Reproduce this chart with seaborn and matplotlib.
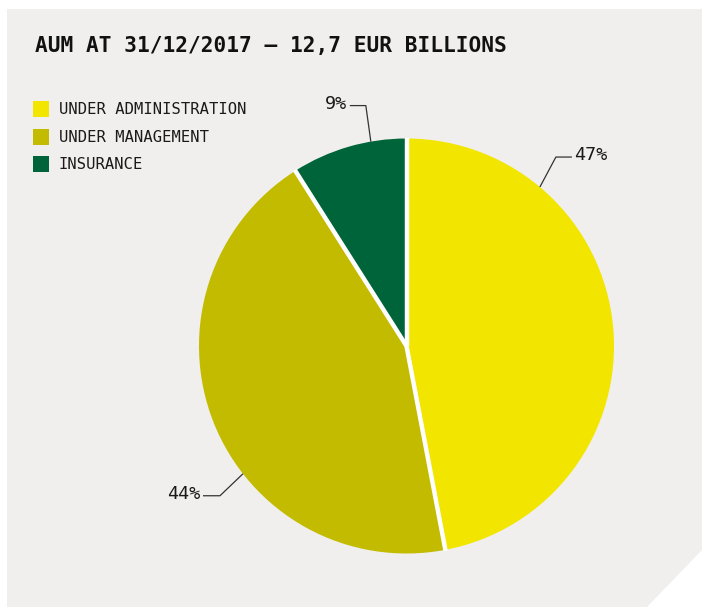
import matplotlib
matplotlib.use("Agg")
import matplotlib.pyplot as plt
from matplotlib.patches import Polygon, Rectangle
import numpy as np
import seaborn as sns

# Assets under management split
categories = ["UNDER ADMINISTRATION", "UNDER MANAGEMENT", "INSURANCE"]
shares = [47, 44, 9]
share_labels = ["47%", "44%", "9%"]
title = "AUM AT 31/12/2017 \u2014 12,7 EUR BILLIONS"

sns.set_theme(style="white")
palette = sns.color_palette(["#f2e500", "#c2bb00", "#00643a"])
plt.rcParams["font.family"] = ["DejaVu Sans Mono", "DejaVu Sans"]

W, H = 702, 607
fig = plt.figure(figsize=(W / 100, H / 100), dpi=100, facecolor="white")
ax = fig.add_axes([0, 0, 1, 1])

# Panel with a clipped bottom-right corner
panel = Polygon([(7, 9), (W, 9), (W, 550), (647, H), (7, H)],
                closed=True, facecolor="#f0efed", edgecolor="none", zorder=0)
ax.add_patch(panel)

# Pie (y axis is inverted, so start at -90 and go counterclockwise in data
# space to run clockwise from 12 o'clock on screen)
cx, cy, r = 406.5, 346, 207.5
wedges, _ = ax.pie(shares, colors=palette, startangle=-90, counterclock=True,
                   center=(cx, cy), radius=r, frame=True,
                   wedgeprops=dict(edgecolor="none", linewidth=0))
for w in wedges:
    w.set_zorder(2)

# White separators between slices
for w in wedges:
    t = np.deg2rad(w.theta1)
    ax.plot([cx, cx + (r + 1) * np.cos(t)], [cy, cy + (r + 1) * np.sin(t)],
            color="white", lw=3.2, solid_capstyle="butt", zorder=3)

ax.set_xlim(0, W)
ax.set_ylim(H, 0)
ax.set_aspect("equal")
ax.axis("off")

ax.text(35, 52, title, fontsize=15.2, fontweight="bold", color="#111111",
        ha="left", va="baseline", zorder=5)

# Legend
for i, (cat, col) in enumerate(zip(categories, palette)):
    y0 = 101 + i * 27.5
    ax.add_patch(Rectangle((33, y0), 16, 16, facecolor=col, edgecolor="none", zorder=5))
    ax.text(59, y0 + 8.5, cat, fontsize=11.2, color="#1a1a1a",
            ha="left", va="center", zorder=5)

# Leader lines: angle on the rim (degrees, screen, 0 = right, counterclockwise),
# elbow offset and horizontal run
leaders = [
    (50.0, (16, -30), 16),     # 47%
    (218.0, (-23, 22), -17),   # 44%
    (99.9, (-5, -36), -16),    # 9%
]
for lab, (ang, (ex, ey), run) in zip(share_labels, leaders):
    t = np.deg2rad(ang)
    px, py = cx + r * np.cos(t), cy - r * np.sin(t)
    bx, by = px + ex, py + ey
    tx = bx + run
    ax.plot([px, bx, tx], [py, by, by], color="#333333", lw=0.9,
            solid_capstyle="butt", zorder=4)
    ha = "left" if run > 0 else "right"
    ax.text(tx + (2 if run > 0 else -3), by - 2, lab, fontsize=13.2,
            color="#1a1a1a", ha=ha, va="center", zorder=5)

fig.savefig("out.png", dpi=100, facecolor="white")
